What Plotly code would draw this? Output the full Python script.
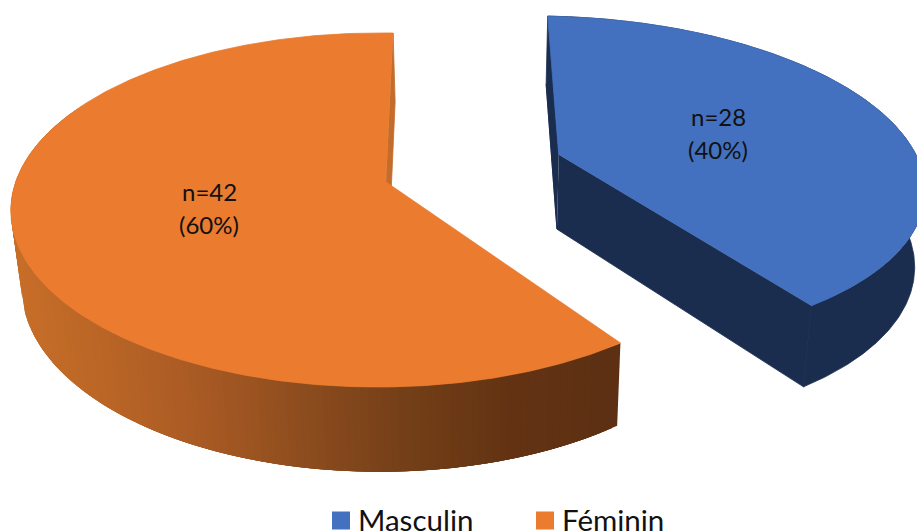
import numpy as np
import plotly.graph_objects as go

# Survey breakdown drawn as an exploded, tilted pie
categories = ["Masculin", "Féminin"]
counts = [28, 42]
top_colors = ["#4371BF", "#EA7B2F"]
side_colors = ["#1A2D4F", "#C46C2C"]

# Rim shading of the orange slice, from screen-left to screen-right
rim_stops_x = [11, 100, 200, 300, 400, 500, 620]
rim_stops_rgb = [(201, 112, 41), (187, 102, 39), (168, 90, 36), (140, 76, 30),
                 (115, 63, 24), (99, 51, 19), (93, 48, 19)]

# Camera used for the tilted disc
CX, CY = 386.0, 182.0
RY = 172.6
K_Y = 0.158
FIRST_ANGLE = -88.5          # where the first slice begins, degrees clockwise from +x
# Per-slice placement on the disc: explode offset, rotation, radial scale, horizontal scale and skew
PLACE = {
    "Masculin": dict(ox=0.48, oy=-0.162, turn=0.6, ry=0.975, rx_px=370.0, k_x=-0.005),
    "Féminin": dict(ox=0.0, oy=0.0, turn=-0.2, ry=1.0, rx_px=363.0, k_x=-0.02),
}


def project(name, x, y):
    p = PLACE[name]
    s = 1.0 / (1.0 - K_Y * y - p["k_x"] * x)
    return CX + p["rx_px"] * x * s, CY + RY * y * s


def apex(name):
    p = PLACE[name]
    return project(name, p["ox"], p["oy"])


def drop(px, py):
    """Screen position of the underside directly below a point on the top face."""
    return px - 0.0233 * (px - 480.0), py + 68.0 + 0.045 * (py - 14.0)


def arc(name, a0, a1, n=240):
    p = PLACE[name]
    t = np.radians(np.linspace(a0, a1, n) + p["turn"])
    return project(name, p["ox"] + np.cos(t), p["oy"] + p["ry"] * np.sin(t))


def poly(xs, ys, color, width=0.8):
    return go.Scatter(x=list(xs), y=list(ys), mode="lines", fill="toself",
                      fillcolor=color, line=dict(color=color, width=width),
                      hoverinfo="skip", showlegend=False)


total = sum(counts)
spans = {}
start = FIRST_ANGLE
for name, value in zip(categories, counts):
    spans[name] = (start, start + 360.0 * value / total)
    start += 360.0 * value / total

fig = go.Figure()

# Orange slice: back cut face, shaded rim, then top
a0, a1 = spans["Féminin"]
ax, ay = apex("Féminin")
ex, ey = arc("Féminin", a1, a1, 1)
exb, eyb = drop(ex, ey)
abx, aby = drop(ax, ay)
fig.add_trace(poly([ax, ex[0], exb[0], abx], [ay, ey[0], eyb[0], aby], side_colors[1]))

# Each band runs on under the next one so no seam shows between them
edges = np.linspace(a0, 205, 150)
for e0, e1 in zip(edges[:-1], edges[1:]):
    x, y = arc("Féminin", e0, e1 + 3.0, 8)
    bx, by = drop(x, y)
    mid = float(np.mean(bx))
    rgb = [np.interp(mid, rim_stops_x, [c[i] for c in rim_stops_rgb]) for i in range(3)]
    col = "rgb(%d,%d,%d)" % tuple(rgb)
    fig.add_trace(poly(np.r_[x, bx[::-1]], np.r_[y, by[::-1]], col, width=0))

x, y = arc("Féminin", a0, a1, 400)
fig.add_trace(poly(np.r_[ax, x], np.r_[ay, y], top_colors[1]))

# Blue slice: cut faces, rim, then top
a0, a1 = spans["Masculin"]
ax, ay = apex("Masculin")
abx, aby = drop(ax, ay)
x, y = arc("Masculin", a0, a1, 300)
bx, by = drop(x, y)
fig.add_trace(poly(np.r_[abx, bx, x[::-1]], np.r_[aby, by, y[::-1]], side_colors[0]))
fig.add_trace(poly([ax, x[0], bx[0], abx], [ay, y[0], by[0], aby], side_colors[0]))
fig.add_trace(poly([ax, x[-1], bx[-1], abx], [ay, y[-1], by[-1], aby], side_colors[0]))
fig.add_trace(poly(np.r_[ax, x], np.r_[ay, y], top_colors[0]))

# Value labels, two lines per slice
label_font = dict(family="Lato", size=24, color="#111111")
label_anchor = {"Masculin": (718, 116.5), "Féminin": (209, 191.5)}
annotations = []
for name, value in zip(categories, counts):
    lx, ly = label_anchor[name]
    pct = round(100 * value / total)
    for text, yy in ((f"n={value}", ly), (f"({pct}%)", ly + 33)):
        annotations.append(dict(x=lx, y=yy, text=text, showarrow=False, font=label_font,
                                xanchor="center", yanchor="middle"))

# Legend row along the bottom edge
legend_x = {"Masculin": 341, "Féminin": 545}
legend_y = 520.5
for name, color in zip(categories, top_colors):
    fig.add_trace(go.Scatter(x=[legend_x[name]], y=[legend_y], mode="markers", name=name,
                             marker=dict(symbol="square", size=18, color=color),
                             showlegend=False))
    annotations.append(dict(x=legend_x[name] + 15, y=legend_y - 1, text=name, showarrow=False,
                            xanchor="left", yanchor="middle",
                            font=dict(family="Lato", size=29.5, color="#111111")))

fig.update_layout(
    width=917, height=532,
    margin=dict(l=0, r=0, t=0, b=0),
    paper_bgcolor="white", plot_bgcolor="white",
    xaxis=dict(range=[0, 917], visible=False, fixedrange=True),
    yaxis=dict(range=[532, 0], visible=False, fixedrange=True),
    annotations=annotations,
    showlegend=False,
)
fig.write_html("out.html")
